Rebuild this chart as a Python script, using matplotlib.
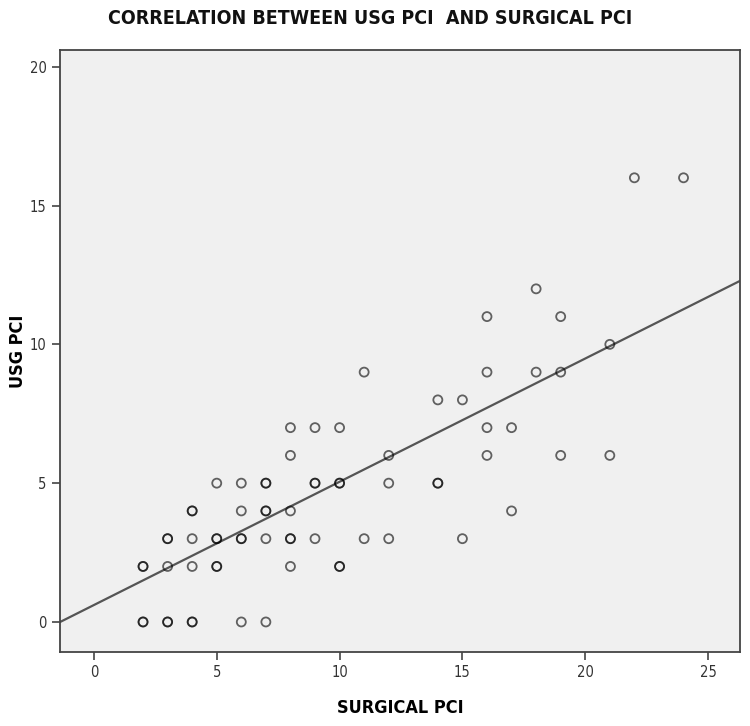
import matplotlib
matplotlib.use("Agg")
import matplotlib.pyplot as plt
import numpy as np

# surgical PCI (x) and USG PCI (y); repeated pairs are the darker circles
surgical_pci = [2, 2, 3, 3, 4, 4, 6, 7,
                2, 2, 3, 4, 5, 5, 8, 10, 10,
                3, 3, 4, 5, 5, 6, 6, 7, 8, 8, 9, 11, 12, 15,
                4, 4, 6, 7, 7, 8, 17,
                5, 6, 7, 7, 9, 9, 10, 10, 12, 14, 14,
                8, 12, 16, 19, 21,
                8, 9, 10, 16, 17,
                14, 15,
                11, 16, 18, 19,
                21, 16, 19, 18, 22, 24]
usg_pci = [0, 0, 0, 0, 0, 0, 0, 0,
           2, 2, 2, 2, 2, 2, 2, 2, 2,
           3, 3, 3, 3, 3, 3, 3, 3, 3, 3, 3, 3, 3, 3,
           4, 4, 4, 4, 4, 4, 4,
           5, 5, 5, 5, 5, 5, 5, 5, 5, 5, 5,
           6, 6, 6, 6, 6,
           7, 7, 7, 7, 7,
           8, 8,
           9, 9, 9, 9,
           10, 11, 11, 12, 16, 16]

# fit line
fit_intercept = 0.61
fit_slope = 0.444

x_ticks = [0, 5, 10, 15, 20, 25]
y_ticks = [0, 5, 10, 15, 20]

fig = plt.figure(figsize=(7.5, 7.26), dpi=100)
ax = fig.add_axes([0.08, 0.102, 0.9067, 0.829])
ax.set_facecolor("#f0f0f0")

ax.scatter(surgical_pci, usg_pci, s=42, facecolors="none", edgecolors="black",
           linewidths=1.3, alpha=0.6, zorder=3)

xlim = (-1.38, 26.3)
xs = np.array(xlim)
ax.plot(xs, fit_intercept + fit_slope * xs, color="#555555", linewidth=1.6, zorder=2)

ax.set_xlim(*xlim)
ax.set_ylim(-1.08, 20.6)
ax.set_xticks(x_ticks)
ax.set_yticks(y_ticks)
ax.tick_params(direction="out", length=6, width=1.2, color="#444444",
               labelsize=10.5, labelcolor="#333333")
for lab in ax.get_xticklabels() + ax.get_yticklabels():
    lab.set_fontstretch("condensed")
for side in ["left", "bottom", "top", "right"]:
    ax.spines[side].set_color("#444444")
    ax.spines[side].set_linewidth(1.3)

ax.set_xlabel("SURGICAL PCI", fontsize=13, fontweight="bold", stretch="condensed")
ax.set_ylabel("USG PCI", fontsize=13, fontweight="bold", stretch="condensed")
ax.xaxis.set_label_coords(0.5, -0.078)
ax.yaxis.set_label_coords(-0.048, 0.5)
fig.text(0.493, 0.975, "CORRELATION BETWEEN USG PCI  AND SURGICAL PCI",
         ha="center", va="center", fontsize=14, fontweight="bold",
         stretch="condensed", color="#111111")

fig.savefig("out.png", dpi=100)
